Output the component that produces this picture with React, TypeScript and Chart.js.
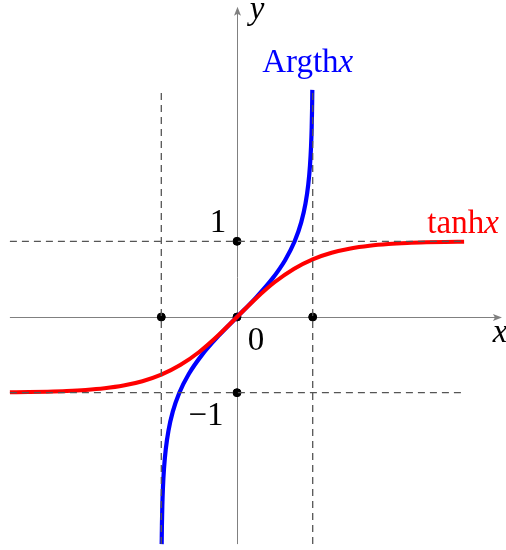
import React, { useEffect, useRef } from "react";
import { Chart, registerables } from "chart.js";

Chart.register(...registerables);

// Sample abscissae and the matching hyperbolic tangent values.
const samples = [-3, -2.75, -2.5, -2.25, -2, -1.75, -1.5, -1.25, -1, -0.75, -0.5, -0.25, 0, 0.25, 0.5, 0.75, 1, 1.25, 1.5, 1.75, 2, 2.25, 2.5, 2.75, 3];
const tanhValues = [-0.995055, -0.991815, -0.986614, -0.978026, -0.964028, -0.941376, -0.905148, -0.848284, -0.761594, -0.635149, -0.462117, -0.244919, 0, 0.244919, 0.462117, 0.635149, 0.761594, 0.848284, 0.905148, 0.941376, 0.964028, 0.978026, 0.986614, 0.991815, 0.995055];

// Marked points on the axes.
const markX = [0, 0, 0, -1, 1];
const markY = [0, 1, -1, 0, 0];

// Asymptote / guide lines.
const guideLevels = [-1, 1];
const guideSpan = [-3, 3];

// Axis extents.
const xAxisRange = [-3, 3.5];
const yAxisRange = [-3, 4.1];

const SERIF = "'Liberation Serif', 'DejaVu Serif', serif";
const FONT_SIZE = 33;

function drawArrow(ctx: CanvasRenderingContext2D, x: number, y: number, dir: "right" | "up") {
  ctx.beginPath();
  if (dir === "right") {
    ctx.moveTo(x, y);
    ctx.lineTo(x - 9, y - 3.5);
    ctx.lineTo(x - 7, y);
    ctx.lineTo(x - 9, y + 3.5);
  } else {
    ctx.moveTo(x, y);
    ctx.lineTo(x - 3.5, y + 9);
    ctx.lineTo(x, y + 7);
    ctx.lineTo(x + 3.5, y + 9);
  }
  ctx.closePath();
  ctx.fill();
}

function mathText(ctx: CanvasRenderingContext2D, upright: string, italic: string, cx: number, baseline: number, color: string) {
  ctx.fillStyle = color;
  ctx.textBaseline = "alphabetic";
  ctx.textAlign = "left";
  const up = `${FONT_SIZE}px ${SERIF}`;
  const it = `italic ${FONT_SIZE}px ${SERIF}`;
  ctx.font = up;
  const w1 = ctx.measureText(upright).width;
  ctx.font = it;
  const w2 = ctx.measureText(italic).width;
  const start = cx - (w1 + w2) / 2;
  ctx.font = up;
  ctx.fillText(upright, start, baseline);
  ctx.font = it;
  ctx.fillText(italic, start + w1, baseline);
}

const axesPlugin = {
  id: "axesPlugin",
  beforeDatasetsDraw(chart: any) {
    const { ctx, scales } = chart;
    const sx = scales.x;
    const sy = scales.y;
    const x0 = Math.round(sx.getPixelForValue(0)) + 0.5;
    const y0 = Math.round(sy.getPixelForValue(0)) + 0.5;
    ctx.save();
    ctx.strokeStyle = "#808080";
    ctx.fillStyle = "#808080";
    ctx.lineWidth = 1;
    const xl = sx.getPixelForValue(xAxisRange[0]);
    const xr = sx.getPixelForValue(xAxisRange[1]);
    ctx.beginPath();
    ctx.moveTo(xl, y0);
    ctx.lineTo(xr - 4, y0);
    ctx.stroke();
    drawArrow(ctx, xr, y0, "right");
    const yb = sy.getPixelForValue(yAxisRange[0]);
    const yt = sy.getPixelForValue(yAxisRange[1]);
    ctx.beginPath();
    ctx.moveTo(x0, yb);
    ctx.lineTo(x0, yt + 4);
    ctx.stroke();
    drawArrow(ctx, x0, yt, "up");
    ctx.restore();
  },
  afterDatasetsDraw(chart: any) {
    const { ctx, scales } = chart;
    const sx = scales.x;
    const sy = scales.y;
    const x0 = sx.getPixelForValue(0);
    const y0 = sy.getPixelForValue(0);
    ctx.save();
    // axis names
    mathText(ctx, "", "y", x0 + 20, sy.getPixelForValue(yAxisRange[1]) + 12, "#000");
    mathText(ctx, "", "x", sx.getPixelForValue(xAxisRange[1]) - 2, y0 + 25, "#000");
    // curve names
    mathText(ctx, "Argth", "x", sx.getPixelForValue(1) - 5, sy.getPixelForValue(3) - 18, "#0000ff");
    mathText(ctx, "tanh", "x", sx.getPixelForValue(3) - 1, sy.getPixelForValue(1) - 8, "#ff0000");
    // tick values
    ctx.fillStyle = "#000";
    ctx.font = `${FONT_SIZE}px ${SERIF}`;
    ctx.textAlign = "center";
    ctx.textBaseline = "alphabetic";
    ctx.fillText("1", x0 - 19, sy.getPixelForValue(1) - 9);
    ctx.fillText("\u22121", x0 - 31, sy.getPixelForValue(-1) + 32);
    ctx.fillText("0", x0 + 19, y0 + 33);
    ctx.restore();
  },
};

export default function App() {
  const ref = useRef<HTMLCanvasElement | null>(null);

  useEffect(() => {
    if (!ref.current) return;
    const tanhData = samples.map((s, i) => ({ x: s, y: tanhValues[i] }));
    const argthData = samples.map((s, i) => ({ x: tanhValues[i], y: s }));
    const guideColor = "#555555";
    const guideSets: any[] = [];
    guideLevels.forEach((v) => {
      guideSets.push({
        data: [{ x: v, y: guideSpan[0] }, { x: v, y: guideSpan[1] }],
        borderColor: guideColor,
        borderWidth: 1.3,
        borderDash: [7, 5],
        pointRadius: 0,
        showLine: true,
        fill: false,
      });
      guideSets.push({
        data: [{ x: guideSpan[0], y: v }, { x: guideSpan[1], y: v }],
        borderColor: guideColor,
        borderWidth: 1.3,
        borderDash: [7, 5],
        pointRadius: 0,
        showLine: true,
        fill: false,
      });
    });
    const chart = new Chart(ref.current, {
      type: "scatter",
      data: {
        datasets: [
          ...guideSets,
          {
            data: tanhData,
            borderColor: "#ff0000",
            borderWidth: 4,
            pointRadius: 0,
            showLine: true,
            cubicInterpolationMode: "monotone",
            fill: false,
          },
          {
            data: argthData,
            borderColor: "#0000ff",
            borderWidth: 4.2,
            pointRadius: 0,
            showLine: true,
            cubicInterpolationMode: "monotone",
            fill: false,
          },
          {
            data: markX.map((x, i) => ({ x, y: markY[i] })),
            backgroundColor: "#000",
            borderColor: "#000",
            pointRadius: 4,
            showLine: false,
          },
        ],
      } as any,
      options: {
        responsive: false,
        animation: false,
        devicePixelRatio: 1,
        layout: { padding: 0, autoPadding: false },
        plugins: { legend: { display: false }, tooltip: { enabled: false } },
        scales: {
          x: { type: "linear", min: -237 / 75.7, max: 269 / 75.7, display: false },
          y: { type: "linear", min: -233 / 75.7, max: 317 / 75.7, display: false },
        },
      },
      plugins: [axesPlugin],
    });
    return () => chart.destroy();
  }, []);

  return (
    <div style={{ position: "absolute", left: 0, top: 0, width: 506, height: 550, background: "#fff" }}>
      <canvas ref={ref} width={506} height={550} />
    </div>
  );
}
